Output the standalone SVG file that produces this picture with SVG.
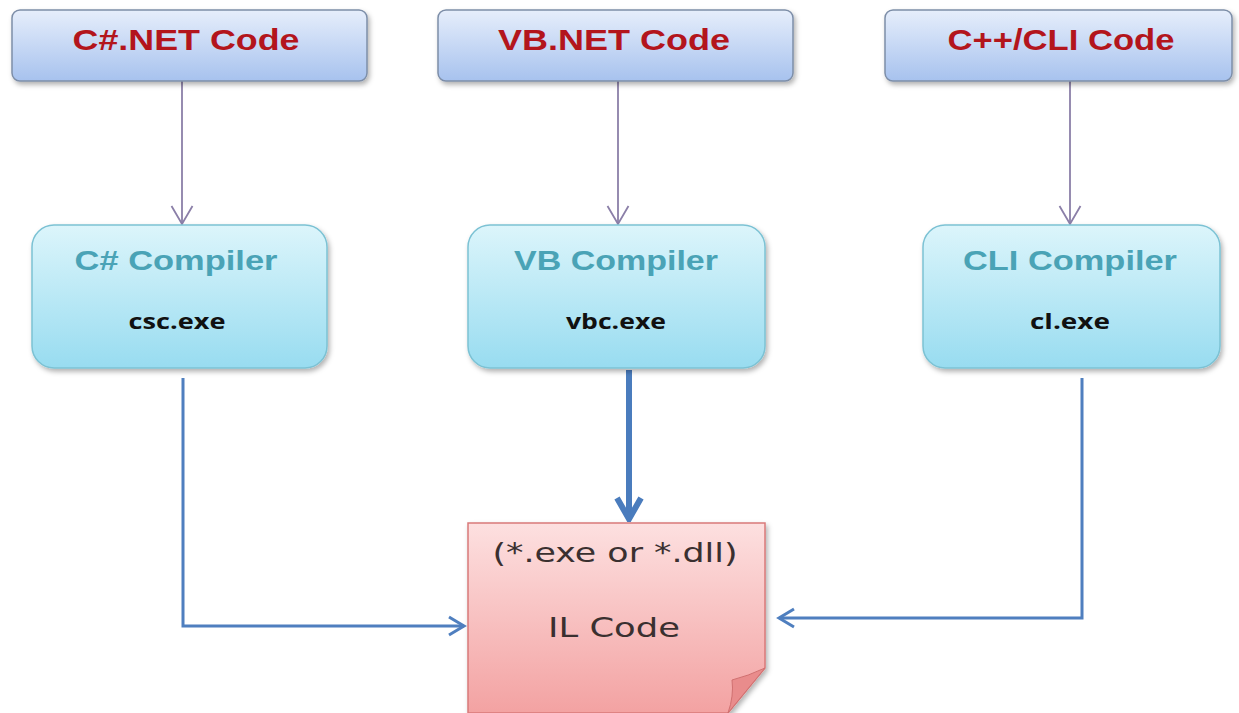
<svg xmlns="http://www.w3.org/2000/svg" width="1239" height="713" viewBox="0 0 1239 713">
<defs>
<linearGradient id="gTop" x1="0" y1="0" x2="0" y2="1"><stop offset="0" stop-color="#e6eefb"/><stop offset="1" stop-color="#a7c2ee"/></linearGradient>
<linearGradient id="gComp" x1="0" y1="0" x2="0" y2="1"><stop offset="0" stop-color="#dcf5fb"/><stop offset="1" stop-color="#98dcf0"/></linearGradient>
<linearGradient id="gIL" x1="0" y1="0" x2="0" y2="1"><stop offset="0" stop-color="#fde0e0"/><stop offset="1" stop-color="#f3a2a2"/></linearGradient>
<filter id="sh" x="-10%" y="-10%" width="125%" height="130%"><feDropShadow dx="2" dy="3" stdDeviation="2.5" flood-color="#000" flood-opacity="0.3"/></filter>
<marker id="mP" viewBox="0 0 24 24" refX="22" refY="12" markerWidth="24" markerHeight="24" markerUnits="userSpaceOnUse" orient="auto"><path d="M4,1.5 L22,12 L4,22.5" fill="none" stroke="#8b7fa8" stroke-width="1.8"/></marker>
<marker id="mB" viewBox="0 0 24 24" refX="21" refY="12" markerWidth="24" markerHeight="24" markerUnits="userSpaceOnUse" orient="auto"><path d="M6,3 L21,12 L6,21" fill="none" stroke="#4f7fbf" stroke-width="3"/></marker>
<marker id="mBig" viewBox="0 0 30 30" refX="27" refY="15" markerWidth="30" markerHeight="30" markerUnits="userSpaceOnUse" orient="auto"><path d="M6,3 L27,15 L6,27" fill="none" stroke="#4a7cbd" stroke-width="6"/></marker>
</defs>
<style>
.top{fill:url(#gTop);stroke:#7d8ea8;stroke-width:1.5}
.comp{fill:url(#gComp);stroke:#7cc2d4;stroke-width:1.5}
.tt{font-family:"Liberation Sans",Arial,sans-serif;font-weight:bold;font-size:30px;fill:#b3151c;text-anchor:middle}
.ct{font-family:"Liberation Sans",Arial,sans-serif;font-weight:bold;font-size:27px;fill:#4aa3b6;text-anchor:middle}
.ce{font-family:"Open Sans","Liberation Sans",sans-serif;font-weight:bold;font-size:22px;fill:#111;text-anchor:middle}
.il{font-family:"DejaVu Sans","Liberation Sans",sans-serif;font-size:27px;fill:#3a3030;text-anchor:middle}
.pl{fill:none;stroke:#8b7fa8;stroke-width:1.8}
.bl{fill:none;stroke:#4f7fbf;stroke-width:3}
</style>
<rect width="1239" height="713" fill="#fff"/>
<g id="connectors">
<path class="pl" d="M182,81 V224" marker-end="url(#mP)"/>
<path class="pl" d="M618,81 V224" marker-end="url(#mP)"/>
<path class="pl" d="M1070,81 V224" marker-end="url(#mP)"/>
<path class="bl" d="M183,378 V626 H464" marker-end="url(#mB)"/>
<path class="bl" d="M1082,378 V618 H779" marker-end="url(#mB)"/>
<path d="M629,370 V519" fill="none" stroke="#4a7cbd" stroke-width="6" marker-end="url(#mBig)"/>
</g>
<g id="csharp-code"><rect class="top" x="12" y="10" width="355" height="71" rx="8" filter="url(#sh)"/><text class="tt" x="186" y="50" textLength="227" lengthAdjust="spacingAndGlyphs">C#.NET Code</text></g>
<g id="vb-code"><rect class="top" x="438" y="10" width="355" height="71" rx="8" filter="url(#sh)"/><text class="tt" x="614" y="50" textLength="232" lengthAdjust="spacingAndGlyphs">VB.NET Code</text></g>
<g id="cli-code"><rect class="top" x="885" y="10" width="347" height="71" rx="8" filter="url(#sh)"/><text class="tt" x="1061" y="50" textLength="227" lengthAdjust="spacingAndGlyphs">C++/CLI Code</text></g>
<g id="csharp-compiler"><rect class="comp" x="32" y="225" width="295" height="143" rx="22" filter="url(#sh)"/><text class="ct" x="176" y="270" textLength="203" lengthAdjust="spacingAndGlyphs">C# Compiler</text><text class="ce" x="177" y="329" textLength="97" lengthAdjust="spacingAndGlyphs">csc.exe</text></g>
<g id="vb-compiler"><rect class="comp" x="468" y="225" width="297" height="143" rx="22" filter="url(#sh)"/><text class="ct" x="616" y="270" textLength="204" lengthAdjust="spacingAndGlyphs">VB Compiler</text><text class="ce" x="616" y="329" textLength="100" lengthAdjust="spacingAndGlyphs">vbc.exe</text></g>
<g id="cli-compiler"><rect class="comp" x="923" y="225" width="297" height="143" rx="22" filter="url(#sh)"/><text class="ct" x="1070" y="270" textLength="214" lengthAdjust="spacingAndGlyphs">CLI Compiler</text><text class="ce" x="1070" y="329" textLength="80" lengthAdjust="spacingAndGlyphs">cl.exe</text></g>
<g id="il-code">
<path d="M468,523 H765 V668 L728,713 H468 Z" fill="url(#gIL)" stroke="#d97a7a" stroke-width="1.5" filter="url(#sh)"/>
<path d="M765,668 Q748,676 732,680 Q734,696 728,713 Z" fill="#e98c8c" stroke="#d07070" stroke-width="1"/>
<text class="il" x="615" y="562" textLength="245" lengthAdjust="spacingAndGlyphs">(*.exe or *.dll)</text>
<text class="il" x="614" y="637" textLength="132" lengthAdjust="spacingAndGlyphs">IL Code</text>
</g>
</svg>
